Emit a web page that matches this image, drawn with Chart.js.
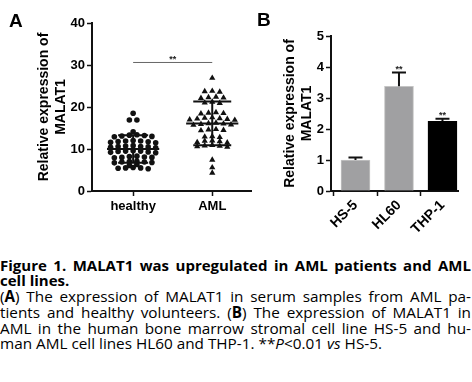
<!DOCTYPE html>
<html><head><meta charset="utf-8">
<script src="https://cdn.jsdelivr.net/npm/chart.js@4/dist/chart.umd.min.js"></script>
<style>
html,body{margin:0;padding:0;background:#fff;}
body{width:472px;height:382px;position:relative;overflow:hidden;font-family:"Liberation Sans",Arial,sans-serif;}
#ca{position:absolute;left:0;top:0;}
#cb{position:absolute;left:240px;top:0;}
.panel{position:absolute;font-weight:bold;font-size:19px;line-height:19px;color:#000;}
.cap{position:absolute;left:0px;width:471px;font-family:"Open Sans",sans-serif;font-size:15.3px;line-height:16px;color:#000;white-space:nowrap;}
.cap.t{font-weight:bold;font-size:15px;}
.j{text-align:justify;text-align-last:justify;}
</style></head><body>
<canvas id="ca" width="256" height="240"></canvas>
<canvas id="cb" width="232" height="250"></canvas>
<div class="panel" style="left:9px;top:11px">A</div>
<div class="panel" style="left:257px;top:10px">B</div>
<div class="cap t j" style="top:257px">Figure 1. MALAT1 was upregulated in AML patients and AML</div>
<div class="cap t" style="top:272px">cell lines.</div>
<div class="cap j" style="top:288px">(<b>A</b>) The expression of MALAT1 in serum samples from AML pa-</div>
<div class="cap j" style="top:304px">tients and healthy volunteers. (<b>B</b>) The expression of MALAT1 in</div>
<div class="cap j" style="top:319.5px">AML in the human bone marrow stromal cell line HS-5 and hu-</div>
<div class="cap" style="top:335px">man AML cell lines HL60 and THP-1. **<i>P</i>&lt;0.01 <i>vs</i> HS-5.</div>
<script>
// ---------- Panel A data ----------
const groups = ['healthy', 'AML'];
const healthy = [18.5, 16.9, 16.9, 14.1,
  13.0, 13.3, 13.1, 13.2, 13.4, 12.9,
  11.6, 11.9, 11.7, 12.0, 11.8, 11.5, 11.9,
  10.4, 10.7, 10.5, 10.8, 10.6, 10.3, 10.6,
  9.2, 9.5, 9.3, 9.6, 9.4, 9.1, 9.5,
  8.0, 8.2, 7.9, 8.3, 8.1, 8.0,
  6.8, 7.0, 6.9, 7.1, 6.7, 6.9,
  6.3, 6.1,
  5.5, 5.4, 5.6, 5.5, 5.3];
const aml = [26.9,
  23.8, 23.6, 23.7,
  22.3, 22.1, 22.4, 22.2,
  21.2, 21.0, 20.9,
  18.6, 18.4, 18.7, 18.5,
  17.3, 17.0, 17.2, 17.4, 17.1, 17.5, 16.9,
  16.0, 15.8, 16.2, 15.9, 16.1, 15.7,
  14.6, 14.4, 14.5, 14.7,
  13.0, 12.8, 12.9,
  11.9, 11.6, 11.8, 12.0, 11.5,
  10.7, 10.5, 10.8, 10.6, 10.9,
  7.4, 5.6, 4.3];
const groupMean = [10.0, 16.1];
const groupSD = [3.3, 5.2];
const yTicksA = [0, 10, 20, 30, 40];
const sigLevelA = 30.6;
const sigTextA = '**';

// ---------- Panel B data ----------
const cellLines = ['HS-5', 'HL60', 'THP-1'];
const expr = [1.0, 3.38, 2.25];
const exprErr = [0.08, 0.44, 0.08];
const sigB = ['', '**', '**'];
const yTicksB = [0, 1, 2, 3, 4, 5];

const FONT = '"Liberation Sans", Arial, sans-serif';

// Prism-like row swarm: group close values into rows, spread horizontally
function swarm(values, center, rowGap, step) {
  const sorted = [...values].sort((a, b) => b - a);
  const rows = []; let cur = null;
  for (const v of sorted) {
    if (!cur || cur.top - v > rowGap) { cur = { top: v, items: [] }; rows.push(cur); }
    cur.items.push(v);
  }
  const pts = [];
  rows.forEach(r => {
    const n = r.items.length;
    const order = [];
    r.items.forEach((v, k) => { if (k % 2 === 0) order.push(v); else order.unshift(v); });
    order.forEach((v, k) => pts.push({ x: center + (k - (n - 1) / 2) * step, y: v }));
  });
  return pts;
}

const axisBorder = { color: '#111', width: 2 };
const tickGrid = { drawOnChartArea: false, drawTicks: true, tickLength: 5, tickColor: '#111', tickWidth: 1.5 };
const tickFont = { family: FONT, size: 13, weight: 'bold' };
const rotFont = { family: FONT, size: 14, weight: 'bold' };
const titleFont = { family: FONT, size: 14, weight: 'bold', lineHeight: 1.25 };

const errPluginA = {
  id: 'errA',
  afterDatasetsDraw(chart) {
    const { ctx, scales: { x, y } } = chart;
    const meanHalf = 0.33, capHalf = [0.19, 0.24];
    ctx.save();
    ctx.strokeStyle = '#111';
    ctx.lineWidth = 2;
    groupMean.forEach((m, i) => {
      const c = i + 1;
      const yt = y.getPixelForValue(m + groupSD[i]);
      const yb = y.getPixelForValue(m - groupSD[i]);
      const ym = y.getPixelForValue(m);
      ctx.beginPath();
      ctx.moveTo(x.getPixelForValue(c - meanHalf), ym); ctx.lineTo(x.getPixelForValue(c + meanHalf), ym);
      ctx.moveTo(x.getPixelForValue(c), yt); ctx.lineTo(x.getPixelForValue(c), yb);
      ctx.moveTo(x.getPixelForValue(c - capHalf[i]), yt); ctx.lineTo(x.getPixelForValue(c + capHalf[i]), yt);
      ctx.moveTo(x.getPixelForValue(c - capHalf[i]), yb); ctx.lineTo(x.getPixelForValue(c + capHalf[i]), yb);
      ctx.stroke();
    });
    const ys = y.getPixelForValue(sigLevelA);
    ctx.strokeStyle = '#666';
    ctx.lineWidth = 1;
    ctx.beginPath();
    ctx.moveTo(x.getPixelForValue(1), ys); ctx.lineTo(x.getPixelForValue(2), ys);
    ctx.stroke();
    ctx.fillStyle = '#222';
    ctx.font = 'bold 9px ' + FONT;
    ctx.textAlign = 'center';
    ctx.textBaseline = 'alphabetic';
    ctx.fillText(sigTextA, x.getPixelForValue(1.5), ys - 0.5);
    ctx.restore();
  }
};

new Chart(document.getElementById('ca'), {
  type: 'scatter',
  data: {
    datasets: [
      { data: swarm(healthy, 1, 0.65, 0.095), pointStyle: 'circle', pointRadius: 2.8,
        pointBackgroundColor: '#111', pointBorderColor: '#111', pointBorderWidth: 0 },
      { data: swarm(aml, 2, 0.65, 0.095), pointStyle: 'triangle', pointRadius: 3.6,
        pointBackgroundColor: '#111', pointBorderColor: '#111', pointBorderWidth: 0 }
    ]
  },
  options: {
    responsive: false, animation: false, events: [],
    layout: { autoPadding: false, padding: { top: 23, right: 5, left: 0, bottom: 0 } },
    plugins: { legend: { display: false }, tooltip: { enabled: false } },
    scales: {
      x: {
        type: 'linear', min: 0.48, max: 2.49,
        afterBuildTicks: s => { s.ticks = groups.map((g, i) => ({ value: i + 1 })); },
        afterFit: s => { s.height = 240 - 191; },
        ticks: { callback: v => groups[v - 1], font: tickFont, color: '#000', padding: 3, maxRotation: 0, autoSkip: false },
        grid: tickGrid, border: axisBorder
      },
      y: {
        min: 0, max: 40,
        afterBuildTicks: s => { s.ticks = yTicksA.map(v => ({ value: v })); },
        afterFit: s => { s.width = 92; },
        ticks: { font: tickFont, color: '#000', padding: 2 },
        grid: tickGrid, border: axisBorder,
        title: { display: true, text: ['Relative expression of', 'MALAT1'], font: titleFont, color: '#000', padding: { top: 35, bottom: 0 } }
      }
    }
  },
  plugins: [errPluginA]
});

const errPluginB = {
  id: 'errB',
  afterDatasetsDraw(chart) {
    const { ctx, scales: { x, y } } = chart;
    const capPx = 7;
    ctx.save();
    ctx.strokeStyle = '#111';
    ctx.lineWidth = 2;
    expr.forEach((v, i) => {
      const cx = x.getPixelForValue(i);
      const y0 = y.getPixelForValue(v);
      const y1 = y.getPixelForValue(v + exprErr[i]);
      ctx.beginPath();
      ctx.moveTo(cx, y0); ctx.lineTo(cx, y1);
      ctx.moveTo(cx - capPx, y1); ctx.lineTo(cx + capPx, y1);
      ctx.stroke();
      if (sigB[i]) {
        ctx.fillStyle = '#222';
        ctx.font = 'bold 9px ' + FONT;
        ctx.textAlign = 'center';
        ctx.textBaseline = 'alphabetic';
        ctx.fillText(sigB[i], cx, y1 - 1);
      }
    });
    ctx.restore();
  }
};

new Chart(document.getElementById('cb'), {
  type: 'bar',
  data: {
    datasets: [{
      data: cellLines.map((c, i) => ({ x: i, y: expr[i] })),
      backgroundColor: ['#a0a0a2', '#a0a0a2', '#000000'],
      borderColor: ['#c4c4c4', '#c4c4c4', '#000000'],
      borderWidth: 1,
      barThickness: 29
    }]
  },
  options: {
    responsive: false, animation: false, events: [],
    layout: { autoPadding: false, padding: { top: 36, right: 14, left: 0, bottom: 0 } },
    plugins: { legend: { display: false }, tooltip: { enabled: false } },
    scales: {
      x: {
        type: 'linear', min: -0.563, max: 2.357, offset: false,
        afterBuildTicks: s => { s.ticks = cellLines.map((c, i) => ({ value: i })); },
        afterFit: s => { s.height = 250 - 191; },
        ticks: { callback: v => cellLines[v], font: rotFont, color: '#000', padding: 1, minRotation: 45, maxRotation: 45, autoSkip: false },
        grid: tickGrid, border: axisBorder
      },
      y: {
        min: 0, max: 5,
        afterBuildTicks: s => { s.ticks = yTicksB.map(v => ({ value: v })); },
        afterFit: s => { s.width = 91; },
        ticks: { font: tickFont, color: '#000', padding: 2 },
        grid: tickGrid, border: axisBorder,
        title: { display: true, text: ['Relative expression of', 'MALAT1'], font: titleFont, color: '#000', padding: { top: 41, bottom: 0 } }
      }
    }
  },
  plugins: [errPluginB]
});
</script>
</body></html>
